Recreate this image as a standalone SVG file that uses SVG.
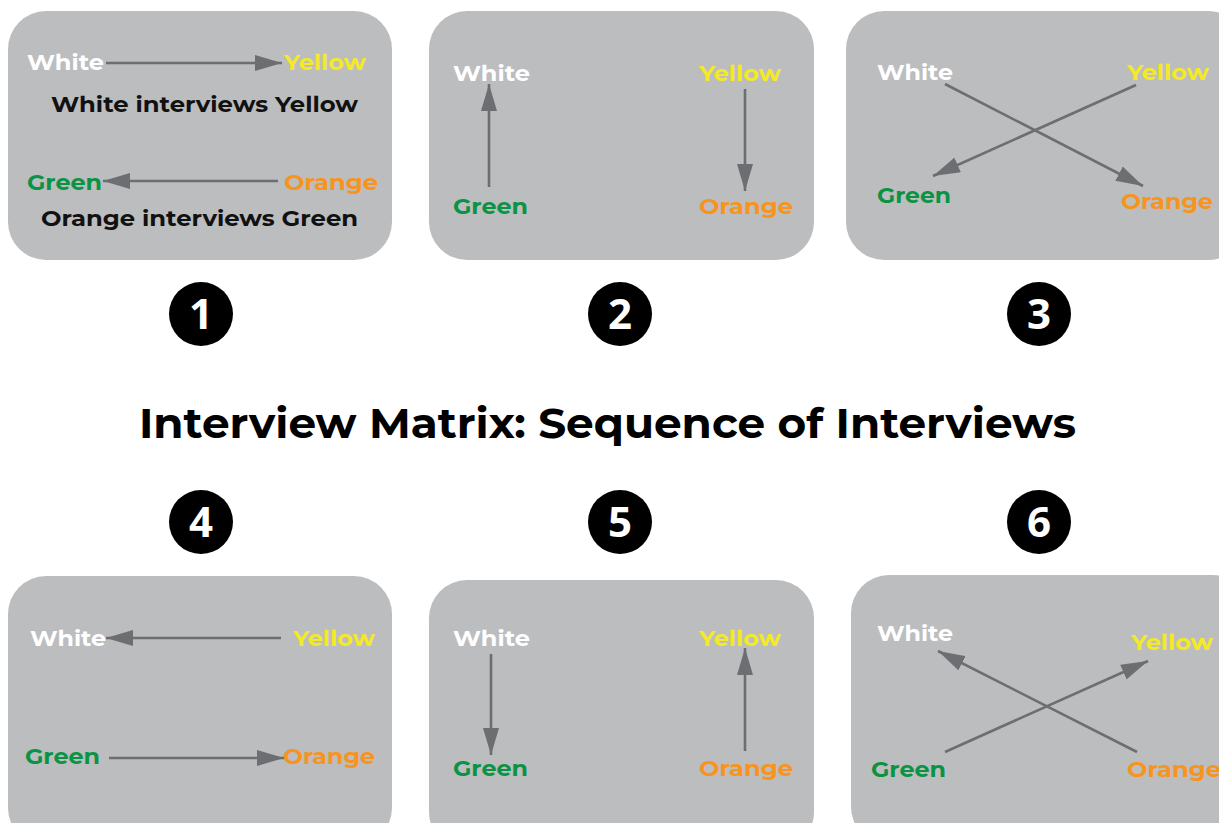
<svg xmlns="http://www.w3.org/2000/svg" width="1219" height="823" viewBox="0 0 1219 823">
<style>
.panel{fill:#bcbdbf}
.lbl{font-family:"Montserrat","Open Sans","Liberation Sans",sans-serif;font-weight:bold;font-size:22px}
.w{fill:#ffffff}.y{fill:#f4e927}.g{fill:#0b9344}.o{fill:#f7941d}.k{fill:#111111}
.arr{stroke:#6d6e71;stroke-width:2.6;fill:none;marker-end:url(#ah)}
.num{fill:#000000}
.numt{font-family:"Open Sans","Liberation Sans",sans-serif;font-weight:bold;font-size:42px;fill:#ffffff;text-anchor:middle}
.title{font-family:"Montserrat","Open Sans","Liberation Sans",sans-serif;font-weight:bold;font-size:42px;fill:#000000}
</style>
<defs>
<marker id="ah" viewBox="0 0 27 16" refX="27" refY="8" markerWidth="27" markerHeight="16" markerUnits="userSpaceOnUse" orient="auto">
<path d="M0,0 L27,8 L0,16 z" fill="#6d6e71"/>
</marker>
</defs>
<rect width="1219" height="823" fill="#ffffff"/>

<g id="panel1">
<rect class="panel" x="8" y="11" width="384" height="249" rx="38"/>
<text class="lbl w" x="27" y="70" textLength="77" lengthAdjust="spacingAndGlyphs">White</text>
<text class="lbl y" x="284" y="70" textLength="82" lengthAdjust="spacingAndGlyphs">Yellow</text>
<text class="lbl k" x="51" y="112" textLength="307" lengthAdjust="spacingAndGlyphs">White interviews Yellow</text>
<text class="lbl g" x="27" y="190" textLength="75" lengthAdjust="spacingAndGlyphs">Green</text>
<text class="lbl o" x="284" y="190" textLength="94" lengthAdjust="spacingAndGlyphs">Orange</text>
<text class="lbl k" x="41" y="226" textLength="317" lengthAdjust="spacingAndGlyphs">Orange interviews Green</text>
</g>

<g id="panel2">
<rect class="panel" x="429" y="11" width="385" height="249" rx="38"/>
<text class="lbl w" x="453" y="81" textLength="77" lengthAdjust="spacingAndGlyphs">White</text>
<text class="lbl y" x="699" y="81" textLength="82" lengthAdjust="spacingAndGlyphs">Yellow</text>
<text class="lbl g" x="453" y="214" textLength="75" lengthAdjust="spacingAndGlyphs">Green</text>
<text class="lbl o" x="699" y="214" textLength="94" lengthAdjust="spacingAndGlyphs">Orange</text>
</g>

<g id="panel3">
<rect class="panel" x="846" y="11" width="400" height="249" rx="38"/>
<text class="lbl w" x="877" y="80" textLength="76" lengthAdjust="spacingAndGlyphs">White</text>
<text class="lbl y" x="1127" y="80" textLength="82" lengthAdjust="spacingAndGlyphs">Yellow</text>
<text class="lbl g" x="877" y="203" textLength="74" lengthAdjust="spacingAndGlyphs">Green</text>
<text class="lbl o" x="1121" y="209" textLength="92" lengthAdjust="spacingAndGlyphs">Orange</text>
</g>

<g id="panel4">
<rect class="panel" x="8" y="576" width="384" height="270" rx="38"/>
<text class="lbl w" x="30" y="646" textLength="76" lengthAdjust="spacingAndGlyphs">White</text>
<text class="lbl y" x="293" y="646" textLength="82" lengthAdjust="spacingAndGlyphs">Yellow</text>
<text class="lbl g" x="25" y="764" textLength="75" lengthAdjust="spacingAndGlyphs">Green</text>
<text class="lbl o" x="283" y="764" textLength="92" lengthAdjust="spacingAndGlyphs">Orange</text>
</g>

<g id="panel5">
<rect class="panel" x="429" y="580" width="385" height="270" rx="38"/>
<text class="lbl w" x="453" y="646" textLength="77" lengthAdjust="spacingAndGlyphs">White</text>
<text class="lbl y" x="699" y="646" textLength="82" lengthAdjust="spacingAndGlyphs">Yellow</text>
<text class="lbl g" x="453" y="776" textLength="75" lengthAdjust="spacingAndGlyphs">Green</text>
<text class="lbl o" x="699" y="776" textLength="94" lengthAdjust="spacingAndGlyphs">Orange</text>
</g>

<g id="panel6">
<rect class="panel" x="851" y="575" width="400" height="270" rx="38"/>
<text class="lbl w" x="877" y="641" textLength="76" lengthAdjust="spacingAndGlyphs">White</text>
<text class="lbl y" x="1131" y="650" textLength="82" lengthAdjust="spacingAndGlyphs">Yellow</text>
<text class="lbl g" x="871" y="777" textLength="75" lengthAdjust="spacingAndGlyphs">Green</text>
<text class="lbl o" x="1127" y="777" textLength="94" lengthAdjust="spacingAndGlyphs">Orange</text>
</g>

<g id="connectors">
<line class="arr" x1="106" y1="63" x2="282" y2="63"/>
<line class="arr" x1="278" y1="181" x2="103" y2="181"/>
<line class="arr" x1="489" y1="187" x2="489" y2="84"/>
<line class="arr" x1="745" y1="89" x2="745" y2="191"/>
<line class="arr" x1="945" y1="84" x2="1143" y2="186"/>
<line class="arr" x1="1136" y1="85" x2="933" y2="176"/>
<line class="arr" x1="281" y1="638" x2="106" y2="638"/>
<line class="arr" x1="109" y1="758" x2="284" y2="758"/>
<line class="arr" x1="491" y1="654" x2="491" y2="755"/>
<line class="arr" x1="745" y1="751" x2="745" y2="648"/>
<line class="arr" x1="1137" y1="752" x2="938" y2="651"/>
<line class="arr" x1="945" y1="752" x2="1148" y2="661"/>
</g>

<g id="badge1"><circle class="num" cx="201" cy="314" r="32"/><text class="numt" x="201" y="329">1</text></g>
<g id="badge2"><circle class="num" cx="620" cy="314" r="32"/><text class="numt" x="620" y="329">2</text></g>
<g id="badge3"><circle class="num" cx="1039" cy="314" r="32"/><text class="numt" x="1039" y="329">3</text></g>
<g id="badge4"><circle class="num" cx="201" cy="522" r="32"/><text class="numt" x="201" y="537">4</text></g>
<g id="badge5"><circle class="num" cx="620" cy="522" r="32"/><text class="numt" x="620" y="537">5</text></g>
<g id="badge6"><circle class="num" cx="1039" cy="522" r="32"/><text class="numt" x="1039" y="537">6</text></g>

<g id="title">
<text class="title" x="139" y="438" textLength="937" lengthAdjust="spacingAndGlyphs">Interview Matrix: Sequence of Interviews</text>
</g>
</svg>
